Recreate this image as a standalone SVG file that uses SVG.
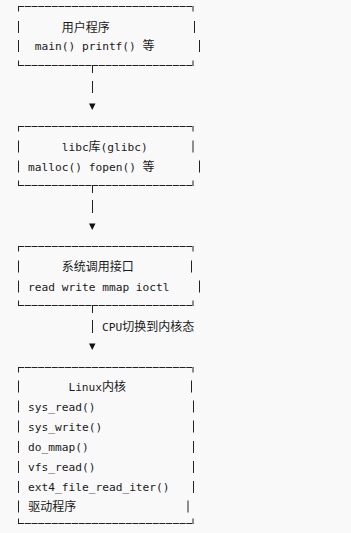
<svg xmlns="http://www.w3.org/2000/svg" width="351" height="533" viewBox="0 0 351 533">
<style>
.bg{fill:#f9f9f9}
.h{fill:none;stroke:#222;stroke-width:1;stroke-dasharray:6.13 0.6}
.v{fill:none;stroke:#222;stroke-width:1}
.t{font-family:"DejaVu Sans Mono","Liberation Mono",monospace;font-size:11.2px;fill:#1a1a1a}
.c{font-family:"Noto Sans CJK SC","Noto Sans",sans-serif;font-size:12px;fill:#1a1a1a}
.arr{fill:#111}
</style>
<rect class="bg" x="0" y="0" width="351" height="533"/>
<g id="user-program">
<path class="h" d="M18,6.5H193.5M18,65.5H193.5"/>
<path class="v" d="M18.5,6.5V11.5M193,6.5V11.5M18.5,21V33M194.5,21V33M18.5,40V52M199.5,40V52M18.5,60.5V65.5M193,60.5V65.5"/>
<text class="c" x="61.7" y="31.5">用户程序</text>
<text class="t" x="34.8" y="50">main() printf()<tspan class="c" x="142.5">等</tspan></text>
</g>
<g id="libc">
<path class="h" d="M18,126.5H193.5M18,185.5H193.5"/>
<path class="v" d="M18.5,126.5V131.5M193,126.5V131.5M18.5,140.5V152.5M193,140.5V152.5M18.5,160.5V172.5M199.5,160.5V172.5M18.5,180.5V185.5M193,180.5V185.5"/>
<text class="t" x="61.7" y="150.7">libc<tspan class="c" x="88.6">库</tspan><tspan x="100.6">(glibc)</tspan></text>
<text class="t" x="28.1" y="170.7">malloc() fopen()<tspan class="c" x="142.5">等</tspan></text>
</g>
<g id="syscall">
<path class="h" d="M18,246.5H193.5M18,305.5H193.5"/>
<path class="v" d="M18.5,246.5V251.5M193,246.5V251.5M18.5,260.5V272.5M191.5,260.5V272.5M18.5,280.5V292.5M199.5,280.5V292.5M18.5,300.5V305.5M193,300.5V305.5"/>
<text class="c" x="61.7" y="271">系统调用接口</text>
<text class="t" x="28.1" y="290.7">read write mmap ioctl</text>
</g>
<g id="kernel">
<path class="h" d="M18,367.5H193.5M18,523.5H193.5"/>
<path class="v" d="M18.5,367.5V372.5M193,367.5V372.5M18.5,380.5V392.5M191.5,380.5V392.5M18.5,400.5V412.5M193.5,400.5V412.5M18.5,420.5V432.5M193.5,420.5V432.5M18.5,441V453M193.5,441V453M18.5,461V473M193.5,461V473M18.5,481V493M193.5,481V493M18.5,500.5V512.5M188,500.5V512.5M18.5,518.5V523.5M193,518.5V523.5"/>
<text class="t" x="68.4" y="390.9">Linux<tspan class="c" x="102.1">内核</tspan></text>
<text class="t" x="28.1" y="410.7">sys_read()</text>
<text class="t" x="28.1" y="430.7">sys_write()</text>
<text class="t" x="28.1" y="451.2">do_mmap()</text>
<text class="t" x="28.1" y="471.2">vfs_read()</text>
<text class="t" x="28.1" y="491.2">ext4_file_read_iter()</text>
<text class="c" x="28.3" y="511.2">驱动程序</text>
</g>
<g id="connectors">
<path class="v" d="M92.5,65.5V73M92.5,81V93M92.5,185.5V193M92.5,200V213M92.5,305.5V313M92.5,320V333"/>
<polygon class="arr" points="89,103.5 95.5,103.5 92.25,110"/>
<polygon class="arr" points="89,223.5 95.5,223.5 92.25,230"/>
<polygon class="arr" points="89,343.5 95.5,343.5 92.25,350"/>
<text class="t" x="102.1" y="331.2">CPU<tspan class="c" x="122.3">切换到内核态</tspan></text>
</g>
</svg>
